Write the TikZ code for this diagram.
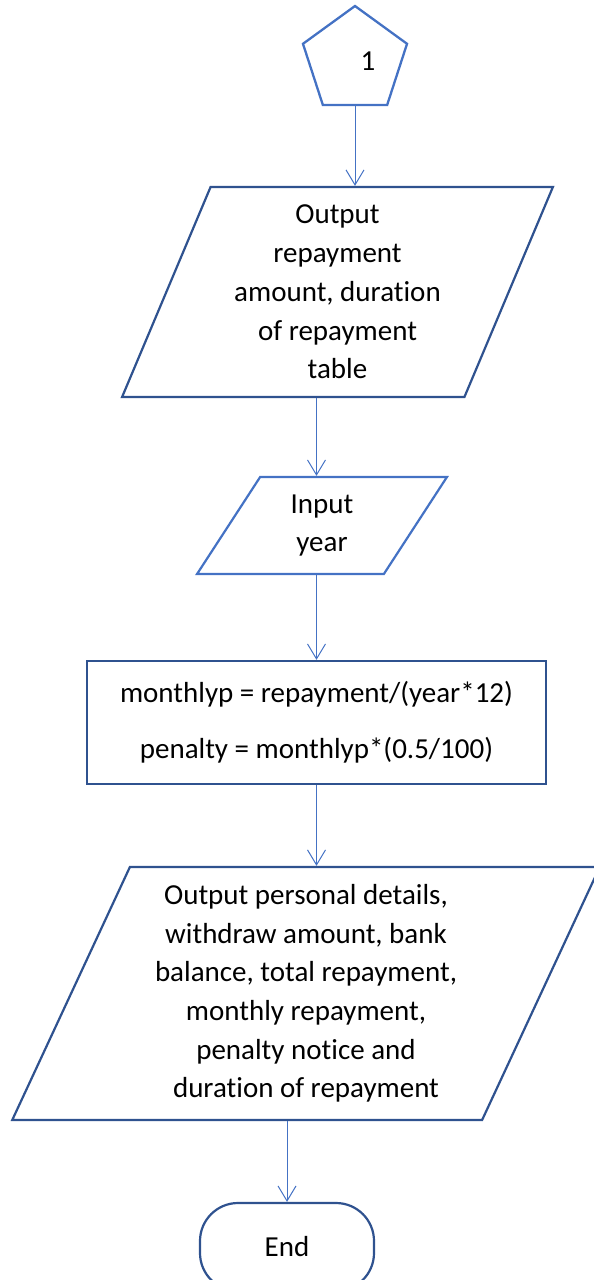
\documentclass[tikz,border=0pt]{standalone}
\usepackage{fontspec}
\setmainfont{Carlito}[Ligatures=NoCommon]
\usetikzlibrary{shapes.geometric,arrows.meta,positioning}
\definecolor{darkblue}{RGB}{47,82,143}
\definecolor{midblue}{RGB}{68,114,196}

\begin{document}
\begin{tikzpicture}[x=1pt,y=-1pt,on grid,
    every node/.style={font=\fontsize{29}{38.7}\selectfont,align=center,inner sep=0pt},
    conn/.style={draw=midblue,line width=2.3pt,regular polygon,regular polygon sides=5,minimum size=109.4pt},
    io/.style={draw=darkblue,line width=2.2pt,trapezium,trapezium stretches=true},
    proc/.style={draw=darkblue,line width=2.2pt,rectangle,minimum width=459pt,minimum height=123pt},
    term/.style={draw=darkblue,line width=2.2pt,rectangle,rounded corners=38pt,minimum width=174pt,minimum height=88pt},
    flow/.style={-{Straight Barb[length=15pt,width=18pt]},midblue,line width=1pt}]
    \useasboundingbox (0,0) rectangle (594,1280);
    \node[conn,label={[xshift=13pt]center:1}] (pent) at (355,60.7) {};
    \node[io,trapezium left angle=67.5,trapezium right angle=112.5,
          minimum width=433pt,minimum height=210pt]
        (out1) [below left=231.3pt and 17.5pt of pent]
        {Output\\repayment\\amount, duration\\of repayment\\table};
    \node[io,draw=midblue,trapezium left angle=62.7,trapezium right angle=117.3,
          minimum width=250pt,minimum height=97pt]
        (inyr) [below left=233.5pt and 15.5pt of out1] {Input\\year};
    \node[proc] (calc) [below left=197pt and 5.5pt of inyr]
        {monthlyp = repayment/(year*12)\\[17pt]penalty = monthlyp*(0.5/100)};
    \node[io,trapezium left angle=65.2,trapezium right angle=114.8,
          minimum width=588pt,minimum height=253pt]
        (out3) [below left=271pt and 10.5pt of calc]
        {Output personal details,\\withdraw amount, bank\\balance, total repayment,\\monthly repayment,\\penalty notice and\\duration of repayment};
    \node[term] (fin) [below left=253.5pt and 19pt of out3] {End};

    \draw[flow] (pent.south) -- (pent.south |- out1.north);
    \draw[flow] (out1.south -| calc.north) -- (inyr.north -| calc.north);
    \draw[flow] (inyr.south -| calc.north) -- (calc.north);
    \draw[flow] (calc.south) -- (calc.south |- out3.north);
    \draw[flow] (out3.south -| fin.north) -- (fin.north);
\end{tikzpicture}
\end{document}
